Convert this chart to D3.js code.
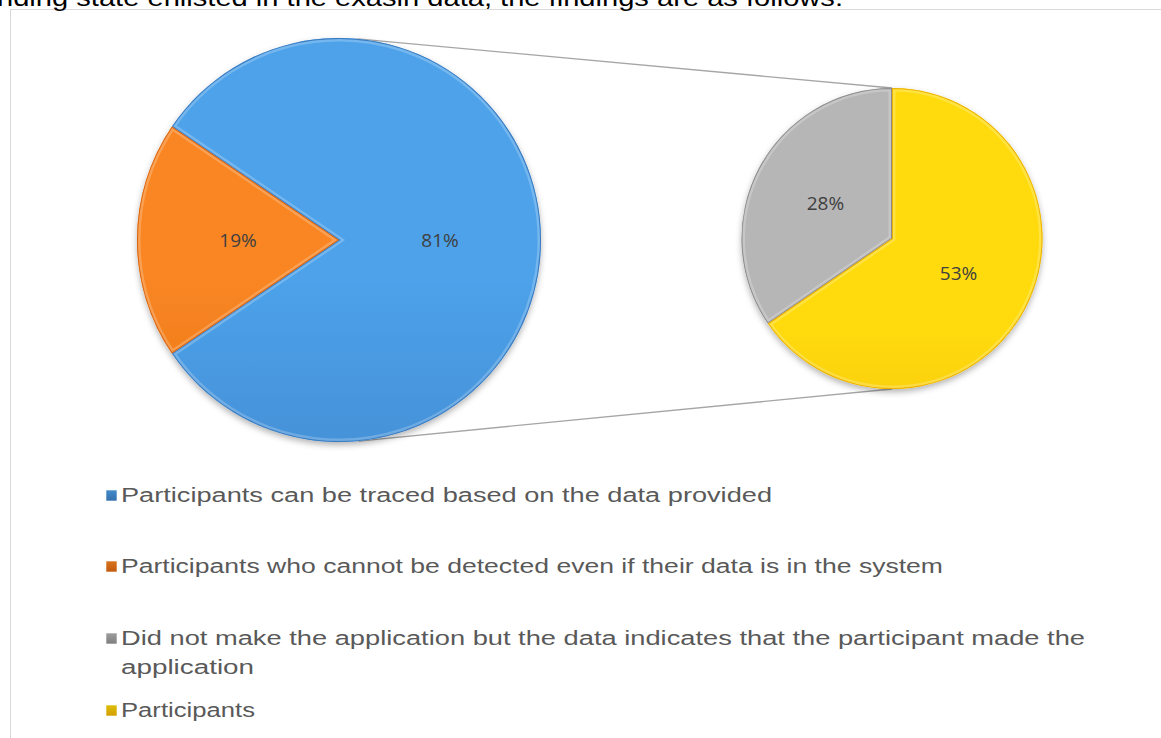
<!DOCTYPE html>
<html>
<head>
<meta charset="utf-8">
<script src="https://cdn.jsdelivr.net/npm/d3@7"></script>
<style>
  body { margin: 0; background: #fff; overflow: hidden; }
</style>
</head>
<body>
<div id="chart"></div>
<script>
// chart data
var introText = "nding state enlisted in the exasin data, the findings are as follows:";
var mainLabels = ["Participants can be traced based on the data provided",
                  "Participants who cannot be detected even if their data is in the system"];
var mainValues = [81, 19];
var subLabels = ["Did not make the application but the data indicates that the participant made the application",
                 "Participants"];
var subValues = [28, 53];

var svgWidth = 1161;
var svgHeight = 738;

var mainColors = [["#4da2ea", "#3a7bc0"], ["#f98622", "#d8620e"]];
var subColors = [["#b6b6b6", "#8c8c8c"], ["#ffdb0a", "#edb000"]];

var svg = d3.select("#chart")
  .append("svg")
  .attr("width", svgWidth)
  .attr("height", svgHeight)
  .style("font-family", "'Open Sans', sans-serif");

var defs = svg.append("defs");

defs.append("filter")
  .attr("id", "shadow")
  .attr("x", "-10%").attr("y", "-10%")
  .attr("width", "120%").attr("height", "125%")
  .append("feDropShadow")
  .attr("dx", 0).attr("dy", 3)
  .attr("stdDeviation", 3)
  .attr("flood-color", "#000")
  .attr("flood-opacity", 0.3);

// chart frame
svg.append("rect")
  .attr("x", 10.5).attr("y", 9.5)
  .attr("width", 1300).attr("height", 900)
  .attr("fill", "#fff")
  .attr("stroke", "#d9d9d9");

// cropped document text above the chart
svg.append("text")
  .attr("x", -3).attr("y", 6)
  .attr("textLength", 846)
  .attr("lengthAdjust", "spacingAndGlyphs")
  .style("font-family", "'Liberation Sans', sans-serif")
  .style("font-size", "24px")
  .attr("fill", "#000")
  .text(introText);

// pie geometry
var main = {cx: 339, cy: 240, r: 202};
var sub = {cx: 892, cy: 238.5, r: 150.5};

var mainTotal = d3.sum(mainValues);
var mainStart = Math.PI / 2 - Math.PI * mainValues[0] / mainTotal;
var mainPie = d3.pie().sort(null)
  .startAngle(mainStart)
  .endAngle(mainStart + 2 * Math.PI);

var subTotal = d3.sum(subValues);
var subStart = -2 * Math.PI * subValues[0] / subTotal;
var subPie = d3.pie().sort(null)
  .startAngle(subStart)
  .endAngle(subStart + 2 * Math.PI);

// connector lines, tangent from the second pie's top/bottom to the first pie
function tangent(px, py, c, upper) {
  var dx = px - c.cx, dy = py - c.cy;
  var d = Math.sqrt(dx * dx + dy * dy);
  var th = Math.atan2(dy, dx);
  var a = Math.acos(c.r / d);
  var t1 = th - a, t2 = th + a;
  var p1 = [c.cx + c.r * Math.cos(t1), c.cy + c.r * Math.sin(t1)];
  var p2 = [c.cx + c.r * Math.cos(t2), c.cy + c.r * Math.sin(t2)];
  if (upper) return p1[1] < p2[1] ? p1 : p2;
  return p1[1] > p2[1] ? p1 : p2;
}

var topP = [sub.cx, sub.cy - sub.r];
var botP = [sub.cx, sub.cy + sub.r];
var connectors = [[tangent(topP[0], topP[1], main, true), topP],
                  [tangent(botP[0], botP[1], main, false), botP]];

svg.selectAll(".connector")
  .data(connectors)
  .enter()
  .append("line")
  .attr("class", "connector")
  .attr("x1", function(d) { return d[0][0]; })
  .attr("y1", function(d) { return d[0][1]; })
  .attr("x2", function(d) { return d[1][0]; })
  .attr("y2", function(d) { return d[1][1]; })
  .attr("stroke", "#a6a6a6")
  .attr("stroke-width", 1.3);

function drawPie(name, c, pie, values, colors) {
  // vertical gradients per slice
  colors.forEach(function(col, i) {
    var g = defs.append("linearGradient")
      .attr("id", name + "grad" + i)
      .attr("gradientUnits", "userSpaceOnUse")
      .attr("x1", 0).attr("y1", c.cy - c.r)
      .attr("x2", 0).attr("y2", c.cy + c.r);
    g.append("stop").attr("offset", "0%").attr("stop-color", col[0]);
    g.append("stop").attr("offset", "100%").attr("stop-color", col[1]);
  });

  var arc = d3.arc().innerRadius(0).outerRadius(c.r);
  var arcs = pie(values);

  var g = svg.append("g")
    .attr("transform", "translate(" + c.cx + "," + c.cy + ")");

  var slices = g.append("g").attr("filter", "url(#shadow)");

  slices.selectAll("path")
    .data(arcs)
    .enter()
    .append("path")
    .attr("d", arc)
    .attr("fill", function(d, i) { return "url(#" + name + "grad" + i + ")"; });

  // soft bevel along the slice edges
  arcs.forEach(function(d, i) {
    defs.append("clipPath")
      .attr("id", name + "clip" + i)
      .append("path")
      .attr("d", arc(d));
    g.append("path")
      .attr("d", arc(d))
      .attr("clip-path", "url(#" + name + "clip" + i + ")")
      .attr("fill", "none")
      .attr("stroke", "#fff")
      .attr("stroke-opacity", 0.22)
      .attr("stroke-width", 7);
    g.append("path")
      .attr("d", arc(d))
      .attr("clip-path", "url(#" + name + "clip" + i + ")")
      .attr("fill", "none")
      .attr("stroke", colors[i][1])
      .attr("stroke-width", 2);
  });

  // data labels
  g.selectAll(".label")
    .data(arcs)
    .enter()
    .append("text")
    .attr("class", "label")
    .attr("transform", function(d) { return "translate(" + arc.centroid(d) + ")"; })
    .attr("text-anchor", "middle")
    .attr("dy", "0.35em")
    .style("font-size", "19px")
    .attr("fill", "#404040")
    .text(function(d) { return d.data + "%"; });
}

drawPie("main", main, mainPie, mainValues, mainColors);
drawPie("sub", sub, subPie, subValues, subColors);

// legend
var legendItems = [
  {lines: [mainLabels[0]], colors: mainColors[0], y: 502, widths: [651]},
  {lines: [mainLabels[1]], colors: mainColors[1], y: 573, widths: [822]},
  {lines: [subLabels[0].replace(/ application$/, ""), "application"], colors: subColors[0], y: 645, widths: [964, 133]},
  {lines: [subLabels[1]], colors: subColors[1], y: 717, widths: [134]}
];

legendItems.forEach(function(item, i) {
  var lg = defs.append("linearGradient")
    .attr("id", "leg" + i)
    .attr("x1", 0).attr("y1", 0).attr("x2", 0).attr("y2", 1);
  lg.append("stop").attr("offset", "0%").attr("stop-color", d3.color(item.colors[0]).darker(0.4));
  lg.append("stop").attr("offset", "100%").attr("stop-color", d3.color(item.colors[1]).darker(0.3));
});

var legend = svg.selectAll(".legend")
  .data(legendItems)
  .enter()
  .append("g")
  .attr("class", "legend");

legend.append("rect")
  .attr("x", 106)
  .attr("y", function(d) { return d.y - 12; })
  .attr("width", 11).attr("height", 11)
  .attr("fill", function(d, i) { return "url(#leg" + i + ")"; })
  .attr("stroke", "#fff")
  .attr("stroke-width", 0.6);

legend.each(function(d) {
  var grp = d3.select(this);
  d.lines.forEach(function(line, j) {
    grp.append("text")
      .attr("x", 121)
      .attr("y", d.y + j * 29)
      .attr("textLength", d.widths[j])
      .attr("lengthAdjust", "spacingAndGlyphs")
      .style("font-family", "'Liberation Sans', sans-serif")
      .style("font-size", "20px")
      .attr("fill", "#595959")
      .text(line);
  });
});
</script>
</body>
</html>
